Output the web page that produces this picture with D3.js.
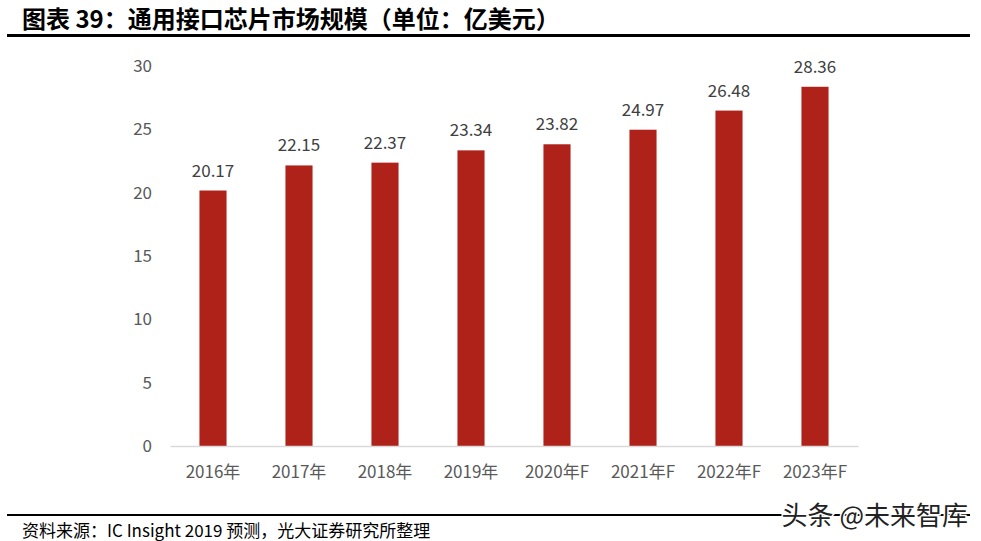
<!DOCTYPE html>
<html><head><meta charset="utf-8">
<script src="https://cdn.jsdelivr.net/npm/d3@7"></script>
<style>body{margin:0;background:#fff}svg{display:block}</style>
</head><body>
<svg id="c" width="981" height="541"></svg>
<script>
const categories = ["2016年","2017年","2018年","2019年","2020年F","2021年F","2022年F","2023年F"];
const values = [20.17,22.15,22.37,23.34,23.82,24.97,26.48,28.36];
const yTicks = [0,5,10,15,20,25,30];
const title = "图表 39：通用接口芯片市场规模（单位：亿美元）";
const source = "资料来源：IC Insight 2019 预测，光大证券研究所整理";
const watermark = "头条 @未来智库";

const svg = d3.select("#c");
const font = "'Noto Sans CJK SC','Noto Sans',sans-serif";

// title
svg.append("text").attr("x",22).attr("y",28).attr("font-family",font)
  .attr("font-size",24).attr("font-weight","bold").attr("fill","#000").text(title);
svg.append("line").attr("x1",7).attr("x2",970).attr("y1",35.5).attr("y2",35.5)
  .attr("stroke","#000").attr("stroke-width",3);

const x = d3.scaleBand().domain(categories).range([170,858]).paddingInner(0.685).paddingOuter(0.3425);
const y = d3.scaleLinear().domain([0,30]).range([446,66]);

// y axis
const ya = svg.append("g").attr("transform","translate(152,0)")
  .call(d3.axisLeft(y).tickValues(yTicks).tickSize(0).tickPadding(0));
ya.select(".domain").remove();
ya.selectAll("text").attr("font-family",font).attr("font-size",17).attr("fill","#595959");

// bars
svg.append("g").selectAll("rect").data(values).join("rect")
  .attr("x",(d,i)=>x(categories[i])).attr("width",x.bandwidth())
  .attr("y",d=>y(d)).attr("height",d=>y(0)-y(d)).attr("fill","#AE2219");

// value labels
svg.append("g").selectAll("text").data(values).join("text")
  .attr("x",(d,i)=>x(categories[i])+x.bandwidth()/2).attr("y",d=>y(d)-14)
  .attr("text-anchor","middle").attr("font-family",font).attr("font-size",17)
  .attr("fill","#404040").text(d=>d.toFixed(2));

// x axis
const xa = svg.append("g").attr("transform","translate(0,446)")
  .call(d3.axisBottom(x).tickSize(0).tickPadding(20));
xa.select(".domain").attr("stroke","#d9d9d9").attr("stroke-width",1.5);
xa.selectAll("text").attr("font-family",font).attr("font-size",17).attr("fill","#595959");

// bottom line and source
svg.append("line").attr("x1",7).attr("x2",970).attr("y1",515).attr("y2",515)
  .attr("stroke","#000").attr("stroke-width",2);
svg.append("text").attr("x",22).attr("y",537).attr("font-family",font)
  .attr("font-size",17).attr("fill","#000").text(source);

// watermark
svg.append("text").attr("x",968).attr("y",525).attr("text-anchor","end")
  .attr("font-family",font).attr("font-size",26).attr("fill","#222")
  .attr("stroke","#fff").attr("stroke-width",3).attr("paint-order","stroke")
  .text(watermark);
</script>
</body></html>
